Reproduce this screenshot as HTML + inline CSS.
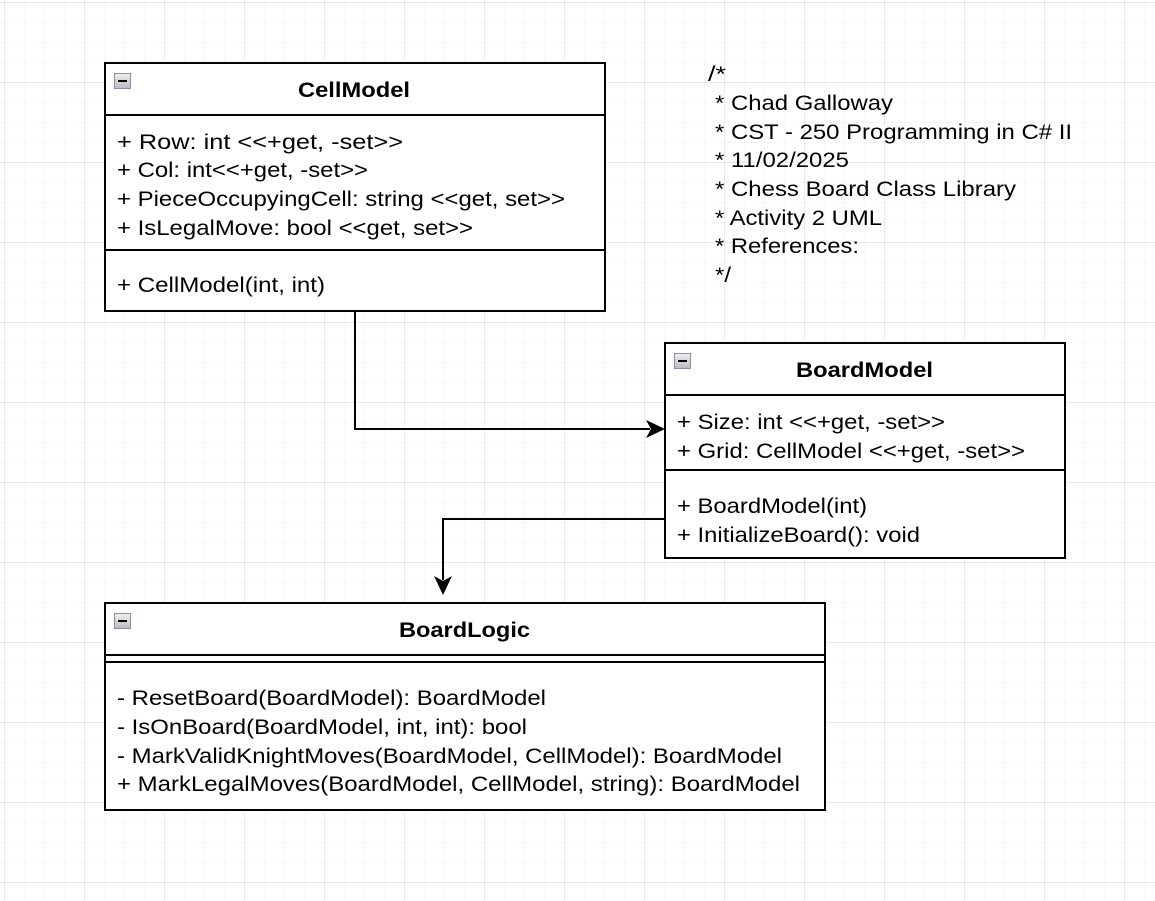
<!DOCTYPE html>
<html><head><meta charset="utf-8"><style>
html,body{margin:0;padding:0;background:#fff;}
svg{display:block;}
text{font-family:"Liberation Sans",Arial,sans-serif;font-size:21px;fill:#000;}
.b{font-weight:bold;}
</style></head><body>
<svg width="1155" height="901" viewBox="0 0 1155 901" xmlns="http://www.w3.org/2000/svg">
<defs>
<pattern id="mn" width="20" height="20" patternUnits="userSpaceOnUse" x="4" y="2">
<path d="M0 0H20M0 0V20" stroke="#efefef" stroke-width="1" fill="none"/>
</pattern>
<pattern id="mj" width="80" height="80" patternUnits="userSpaceOnUse" x="4" y="2">
<path d="M0 0H80M0 0V80" stroke="#d6d6d6" stroke-width="1" fill="none"/>
</pattern>
<linearGradient id="g" x1="0" y1="0" x2="0" y2="1"><stop offset="0" stop-color="#f2f2f2"/><stop offset="1" stop-color="#b8b8c0"/></linearGradient>
</defs>
<rect width="1155" height="901" fill="#fff"/>
<rect width="1155" height="901" fill="url(#mn)"/>
<rect width="1155" height="901" fill="url(#mj)"/>

<g fill="#fff" stroke="#000" stroke-width="2">
<rect x="105" y="63" width="500" height="248"/>
<rect x="665" y="343" width="400" height="215"/>
<rect x="105" y="603" width="720" height="207"/>
</g>
<g stroke="#000" stroke-width="2">
<line x1="105" y1="115" x2="605" y2="115"/>
<line x1="105" y1="250" x2="605" y2="250"/>
<line x1="665" y1="395" x2="1065" y2="395"/>
<line x1="665" y1="470" x2="1065" y2="470"/>
<line x1="105" y1="655" x2="825" y2="655"/>
<line x1="105" y1="662" x2="825" y2="662"/>
</g>
<g stroke="#8a8fa0" stroke-width="1" fill="url(#g)">
<rect x="114.5" y="73.5" width="16" height="15"/>
<rect x="674.5" y="353.5" width="16" height="15"/>
<rect x="114.5" y="613.5" width="16" height="15"/>
</g>
<g stroke="#000" stroke-width="2">
<line x1="118" y1="81" x2="127" y2="81"/>
<line x1="678" y1="361" x2="687" y2="361"/>
<line x1="118" y1="621" x2="127" y2="621"/>
</g>
<g lengthAdjust="spacingAndGlyphs">
<text class="b" x="298" y="97" textLength="112" lengthAdjust="spacingAndGlyphs">CellModel</text>
<text x="117" y="149" textLength="286" lengthAdjust="spacingAndGlyphs">+ Row: int &lt;&lt;+get, -set&gt;&gt;</text>
<text x="117" y="177" textLength="251" lengthAdjust="spacingAndGlyphs">+ Col: int&lt;&lt;+get, -set&gt;&gt;</text>
<text x="117" y="206" textLength="448" lengthAdjust="spacingAndGlyphs">+ PieceOccupyingCell: string &lt;&lt;get, set&gt;&gt;</text>
<text x="117" y="235" textLength="356" lengthAdjust="spacingAndGlyphs">+ IsLegalMove: bool &lt;&lt;get, set&gt;&gt;</text>
<text x="117" y="292" textLength="208" lengthAdjust="spacingAndGlyphs">+ CellModel(int, int)</text>

<text class="b" x="796" y="377" textLength="137" lengthAdjust="spacingAndGlyphs">BoardModel</text>
<text x="677" y="429" textLength="268" lengthAdjust="spacingAndGlyphs">+ Size: int &lt;&lt;+get, -set&gt;&gt;</text>
<text x="677" y="458" textLength="348" lengthAdjust="spacingAndGlyphs">+ Grid: CellModel &lt;&lt;+get, -set&gt;&gt;</text>
<text x="677" y="513" textLength="190" lengthAdjust="spacingAndGlyphs">+ BoardModel(int)</text>
<text x="677" y="542" textLength="243" lengthAdjust="spacingAndGlyphs">+ InitializeBoard(): void</text>

<text class="b" x="399" y="637" textLength="131" lengthAdjust="spacingAndGlyphs">BoardLogic</text>
<text x="117" y="705" textLength="429" lengthAdjust="spacingAndGlyphs">- ResetBoard(BoardModel): BoardModel</text>
<text x="117" y="734" textLength="410" lengthAdjust="spacingAndGlyphs">- IsOnBoard(BoardModel, int, int): bool</text>
<text x="117" y="763" textLength="665" lengthAdjust="spacingAndGlyphs">- MarkValidKnightMoves(BoardModel, CellModel): BoardModel</text>
<text x="117" y="791" textLength="683" lengthAdjust="spacingAndGlyphs">+ MarkLegalMoves(BoardModel, CellModel, string): BoardModel</text>

<text x="708" y="81" textLength="18" lengthAdjust="spacingAndGlyphs">/*</text>
<text x="715" y="110" textLength="178" lengthAdjust="spacingAndGlyphs">* Chad Galloway</text>
<text x="715" y="139" textLength="357" lengthAdjust="spacingAndGlyphs">* CST - 250 Programming in C# II</text>
<text x="715" y="167" textLength="134" lengthAdjust="spacingAndGlyphs">* 11/02/2025</text>
<text x="715" y="196" textLength="301" lengthAdjust="spacingAndGlyphs">* Chess Board Class Library</text>
<text x="715" y="225" textLength="167" lengthAdjust="spacingAndGlyphs">* Activity 2 UML</text>
<text x="715" y="253" textLength="144" lengthAdjust="spacingAndGlyphs">* References:</text>
<text x="715" y="282" textLength="16" lengthAdjust="spacingAndGlyphs">*/</text>
</g>

<polyline points="355,311 355,429 650,429" fill="none" stroke="#000" stroke-width="2"/>
<polygon points="665,429 646,420 651,429 646,438" fill="#000"/>
<polyline points="665,519 443,519 443,580" fill="none" stroke="#000" stroke-width="2"/>
<polygon points="443,595 434,576 443,581 452,576" fill="#000"/>
</svg>
</body></html>
